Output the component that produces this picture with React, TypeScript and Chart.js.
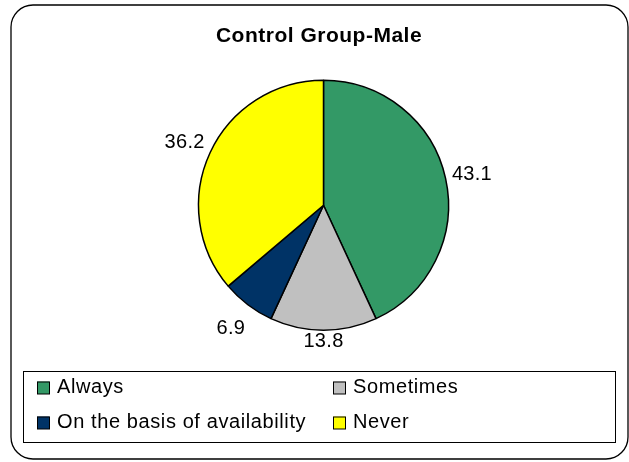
import { useEffect, useRef } from "react";
import { Chart, registerables } from "chart.js";

Chart.register(...registerables);

const TITLE = "Control Group-Male";
const categories = ["Always", "Sometimes", "On the basis of availability", "Never"];
const values = [43.1, 13.8, 6.9, 36.2];
const colors = ["#339966", "#C0C0C0", "#003366", "#FFFF00"];
// radial distance of each value label beyond the pie edge (style)
const labelGaps = [27, 10, 28, 28];

const FONT = "'Liberation Sans', Arial, sans-serif";

const framePlugin = {
  id: "frame",
  beforeDraw(chart: any) {
    const ctx = chart.ctx;
    ctx.save();
    ctx.fillStyle = "#ffffff";
    ctx.fillRect(0, 0, chart.width, chart.height);
    ctx.restore();
  },
  afterDraw(chart: any) {
    const ctx = chart.ctx as CanvasRenderingContext2D;
    ctx.save();
    // outer rounded frame
    ctx.strokeStyle = "#000";
    ctx.lineWidth = 1.3;
    ctx.beginPath();
    (ctx as any).roundRect(11, 5, 617, 454, 22);
    ctx.stroke();

    // title
    ctx.fillStyle = "#000";
    ctx.font = `bold 21px ${FONT}`;
    (ctx as any).letterSpacing = "0.5px";
    ctx.textAlign = "center";
    ctx.textBaseline = "alphabetic";
    ctx.fillText(TITLE, 319, 42);

    // value labels outside the slices
    ctx.font = `20px ${FONT}`;
    (ctx as any).letterSpacing = "0.3px";
    const meta = chart.getDatasetMeta(0);
    meta.data.forEach((arc: any, i: number) => {
      const p = arc.getProps(["x", "y", "startAngle", "endAngle", "outerRadius"], true);
      const mid = (p.startAngle + p.endAngle) / 2;
      const r = p.outerRadius + labelGaps[i];
      const lx = p.x + Math.cos(mid) * r;
      const ly = p.y + Math.sin(mid) * r;
      ctx.fillText(String(chart.data.datasets[0].data[i]), lx, ly + 7);
    });

    // legend box
    ctx.lineWidth = 1;
    ctx.strokeStyle = "#000";
    ctx.strokeRect(23.5, 371.5, 592, 71);
    ctx.textAlign = "left";
    (ctx as any).letterSpacing = "0.6px";
    const colX = [37, 333];
    const rowY = [381.5, 416.5];
    const labels = chart.data.labels as string[];
    const bg = chart.data.datasets[0].backgroundColor as string[];
    labels.forEach((lab, i) => {
      const cx = colX[i % 2];
      const cy = rowY[Math.floor(i / 2)];
      ctx.fillStyle = bg[i];
      ctx.fillRect(cx, cy, 12.5, 12.5);
      ctx.strokeStyle = "#000";
      ctx.lineWidth = 1;
      ctx.strokeRect(cx + 0.5, cy + 0.5, 12, 12);
      ctx.fillStyle = "#000";
      ctx.fillText(lab, cx + 20, cy + 11);
    });
    ctx.restore();
  },
};

export default function App() {
  const ref = useRef<HTMLCanvasElement | null>(null);
  useEffect(() => {
    if (!ref.current) return;
    const chart = new Chart(ref.current, {
      type: "pie",
      data: {
        labels: categories,
        datasets: [
          {
            data: values,
            backgroundColor: colors,
            borderColor: "#000",
            borderWidth: 1.5,
            radius: 125,
          } as any,
        ],
      },
      options: {
        responsive: false,
        animation: false,
        devicePixelRatio: 1,
        layout: { padding: { left: 198.5, right: 180.5, top: 80, bottom: 131.5 } },
        plugins: {
          legend: { display: false },
          title: { display: false },
          tooltip: { enabled: false },
        },
      },
      plugins: [framePlugin],
    });
    return () => chart.destroy();
  }, []);
  return (
    <div style={{ position: "fixed", left: 0, top: 0, width: 629, height: 462 }}>
      <canvas ref={ref} width={629} height={462} style={{ width: 629, height: 462 }} />
    </div>
  );
}
